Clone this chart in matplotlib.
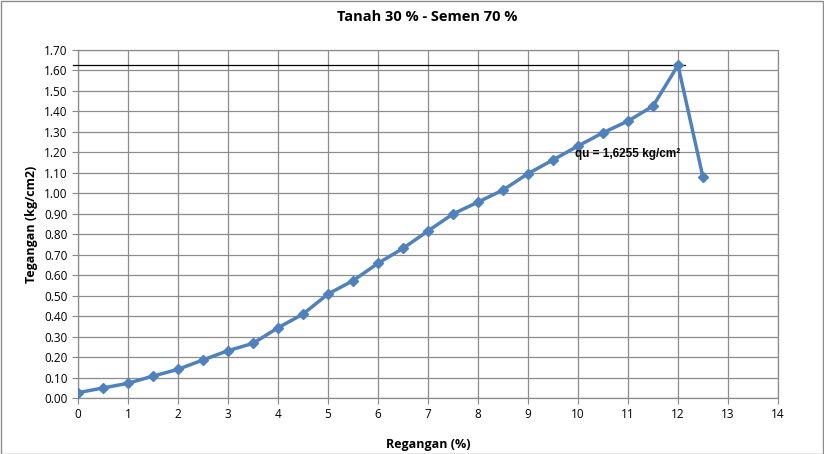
import matplotlib
matplotlib.use("Agg")
import matplotlib.pyplot as plt
from matplotlib.patches import Rectangle

strain = [0, 0.5, 1, 1.5, 2, 2.5, 3, 3.5, 4, 4.5, 5, 5.5, 6, 6.5, 7, 7.5, 8, 8.5, 9, 9.5, 10, 10.5, 11, 11.5, 12, 12.5]
stress = [0.026, 0.049, 0.072, 0.107, 0.140, 0.186, 0.231, 0.267, 0.343, 0.410, 0.508, 0.573, 0.658, 0.731, 0.816,
          0.899, 0.957, 1.016, 1.096, 1.163, 1.231, 1.296, 1.353, 1.426, 1.6255, 1.078]
qu = 1.6255
qu_line_x = [-0.1, 12.15]
xticks = list(range(0, 15))
yticks = [i / 10 for i in range(0, 18)]

plt.rcParams['font.family'] = ['Open Sans', 'DejaVu Sans']

fig = plt.figure(figsize=(8.24, 4.54), dpi=100)
W, H = 824, 454
ax = fig.add_axes([78 / W, 1 - 398 / H, 700 / W, 348 / H])

ax.set_xlim(0, 14)
ax.set_ylim(0, 1.7)
ax.set_xticks(xticks)
ax.set_yticks(yticks)
ax.set_yticklabels([f"{v:.2f}" for v in yticks])
ax.tick_params(labelsize=8.5, length=4, color='#888888', width=0.8)
ax.grid(True, color='#8c8c8c', linewidth=0.9)
ax.set_axisbelow(True)
for s in ax.spines.values():
    s.set_color('#8c8c8c')
    s.set_linewidth(0.9)

ax.plot(qu_line_x, [qu, qu], color='black', linewidth=0.9, clip_on=False, zorder=3)
ax.plot(strain, stress, color='#4F81BD', linewidth=2.5, marker='D', markersize=5.5, zorder=4)

ax.text(9.94, 1.19, "qu = 1,6255 kg/cm²", fontsize=8.5, fontweight='bold',
        family=['Liberation Sans', 'DejaVu Sans'], va='center', ha='left', zorder=5)

ax.set_xlabel("Regangan (%)", fontsize=9, fontweight='bold', labelpad=12)
ax.set_ylabel("Tegangan (kg/cm2)", fontsize=9, fontweight='bold', labelpad=4)
fig.text(427 / W, 1 - 17 / H, "Tanah 30 % - Semen 70 %", fontsize=10.5, fontweight='bold',
         ha='center', va='center')

fig.patches.append(Rectangle((0.5 / W, 0.5 / H), 1 - 1.5 / W, 1 - 1.5 / H, transform=fig.transFigure,
                             fill=False, edgecolor='#8c8c8c', linewidth=1))

fig.savefig("out.png", dpi=100)
